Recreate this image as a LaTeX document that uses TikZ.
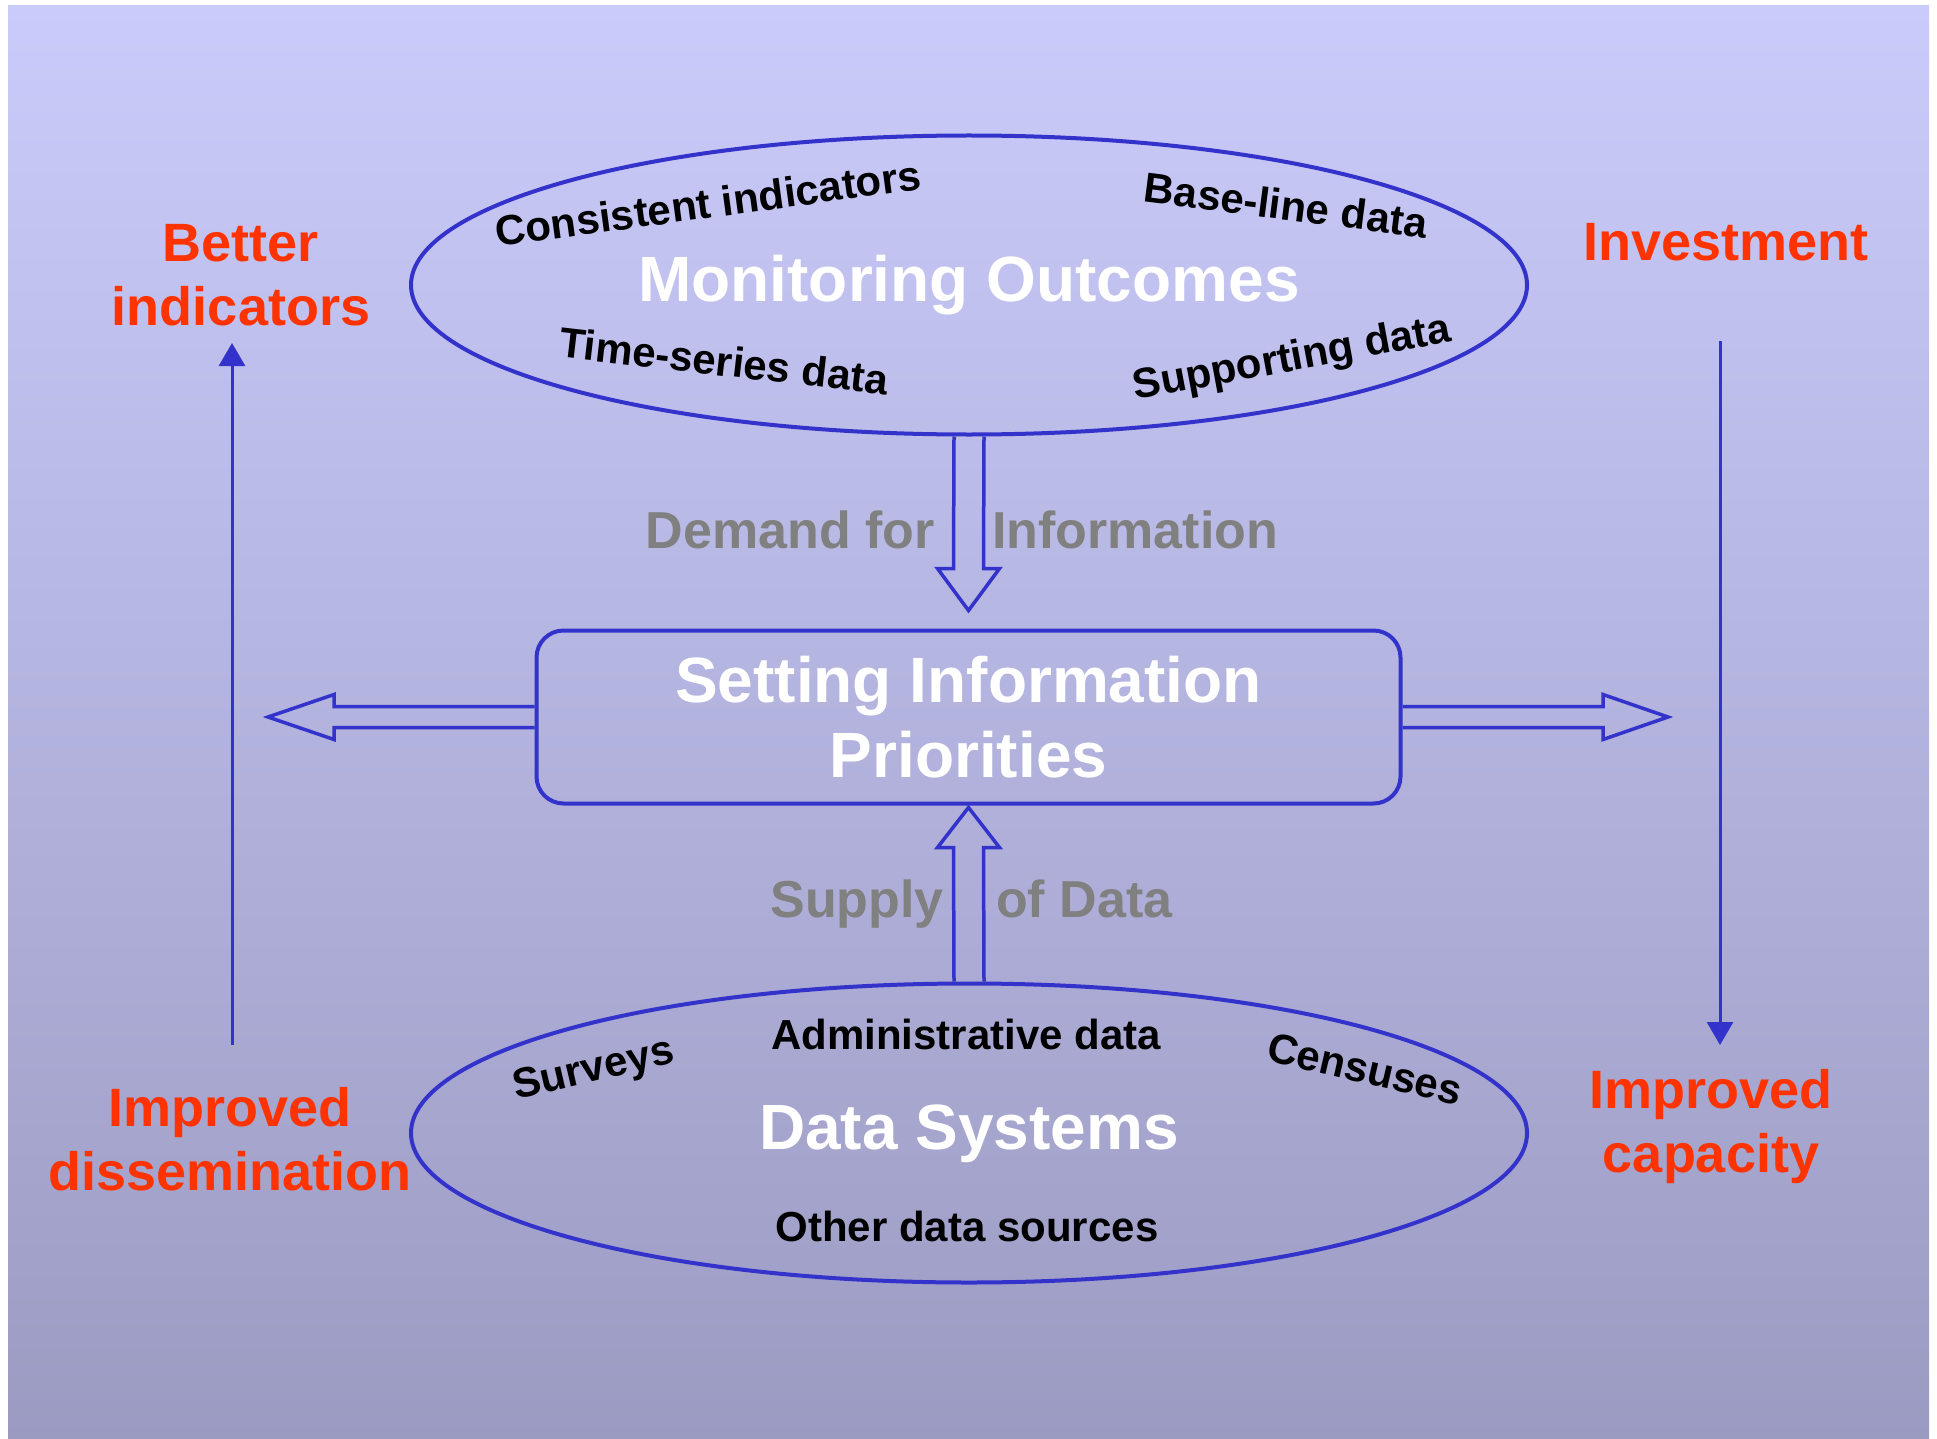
\documentclass[tikz,border=0pt]{standalone}
\usepackage{fontspec}
\setmainfont{Liberation Sans}
\usepackage{tikz}
\usetikzlibrary{shapes, arrows.meta, calc}
\definecolor{lineblue}{RGB}{51,51,204}
\definecolor{effectred}{RGB}{255,51,0}
\definecolor{flowgray}{RGB}{128,128,128}
\definecolor{skytop}{RGB}{203,203,251}
\definecolor{skybottom}{RGB}{155,155,194}
\tikzstyle{oval}   = [ellipse, draw=lineblue, line width=4pt, minimum width=1116pt, minimum height=299pt, inner sep=0pt]
\tikzstyle{prio}   = [rectangle, rounded corners=27pt, draw=lineblue, line width=4pt, minimum width=864pt, minimum height=173pt, text=white, align=center, font=\fontsize{64}{75}\selectfont\bfseries]
\tikzstyle{title}  = [text=white, font=\fontsize{64}{75}\selectfont\bfseries, anchor=base]
\tikzstyle{item}   = [font=\fontsize{42}{48}\selectfont\bfseries, inner sep=0pt]
\tikzstyle{flow}   = [text=flowgray, font=\fontsize{52}{60}\selectfont\bfseries, inner sep=0pt]
\tikzstyle{effect} = [text=effectred, font=\fontsize{54}{64}\selectfont\bfseries, align=center, inner sep=0pt]
\tikzstyle{hollow} = [draw=lineblue, line width=3.5pt, line join=miter]
\tikzstyle{single} = [draw=lineblue, line width=3pt, -{Triangle[length=23pt, width=26pt]}]

\begin{document}
\begin{tikzpicture}[x=1pt, y=-1pt]
    \useasboundingbox (0,0) rectangle (1937,1439);
    \shade[top color=skytop, bottom color=skybottom] (8,6) rectangle (1929,1438);

    % the two ovals and the box between them
    \node[oval](outcomes) at (969,285) {};
    \node[prio](prio) at (968.5,717) {Setting Information\\Priorities};
    \node[oval](systems) at (969,1133) {};
    \node[title](outtitle) at ($(outcomes)+(0,16)$) {Monitoring Outcomes};
    \node[title](systitle) at ($(systems)+(0,16)$) {Data Systems};

    % what goes into the ovals
    \node[item, rotate=7.7](consistent) at (708,203) {Consistent indicators};
    \node[item, rotate=-7.3](baseline) at (1286,205) {Base-line data};
    \node[item, rotate=-6.6](timeseries) at (724,361) {Time-series data};
    \node[item, rotate=10.5](supporting) at (1292,360) {Supporting data};
    \node[item, rotate=13](surveys) at (594,1071) {Surveys};
    \node[item, anchor=base](admin) at (966,1049) {Administrative data};
    \node[item, rotate=-13](censuses) at (1365,1069) {Censuses};
    \node[item, anchor=base](other) at (967,1241) {Other data sources};

    \node[flow, anchor=base east](demand) at (935,548) {Demand for};
    \node[flow, anchor=base west](information) at (992,548) {Information};
    \node[flow, anchor=base east](supply) at (944,917) {Supply};
    \node[flow, anchor=base west](ofdata) at (996,917) {of Data};

    \node[effect](better) at (241,275) {Better\\indicators};
    \node[effect, anchor=base](investment) at (1726,261) {Investment};
    \node[effect](dissem) at (230,1139) {Improved\\dissemination};
    \node[effect](capacity) at (1711,1127) {Improved\\capacity};

    % hollow arrows
    \draw[hollow]($(outcomes.south)+(-15,0)$) -- ($(prio.north)+(-15,-60)$) -- ($(prio.north)+(-31,-60)$)
        -- ($(prio.north)+(0,-18)$) -- ($(prio.north)+(31,-60)$) -- ($(prio.north)+(15,-60)$) -- ($(outcomes.south)+(15,0)$);
    \draw[hollow]($(systems.north)+(-15,0)$) -- ($(prio.south)+(-15,42)$) -- ($(prio.south)+(-31,42)$)
        -- ($(prio.south)+(0,2)$) -- ($(prio.south)+(31,42)$) -- ($(prio.south)+(15,42)$) -- ($(systems.north)+(15,0)$);
    \coordinate (westtip) at (268,717);
    \coordinate (easttip) at (1668,717);
    \draw[hollow]($(prio.west)+(0,-10.5)$) -- ($(westtip)+(66,-10.5)$) -- ($(westtip)+(66,-22.5)$)
        -- (westtip) -- ($(westtip)+(66,22.5)$) -- ($(westtip)+(66,10.5)$) -- ($(prio.west)+(0,10.5)$);
    \draw[hollow]($(prio.east)+(0,-10.5)$) -- ($(easttip)+(-65,-10.5)$) -- ($(easttip)+(-65,-22.5)$)
        -- (easttip) -- ($(easttip)+(-65,22.5)$) -- ($(easttip)+(-65,10.5)$) -- ($(prio.east)+(0,10.5)$);

    % the loop round the sides
    \coordinate (leftfoot) at (232,1045);
    \coordinate (lefthead) at (232,343);
    \coordinate (righttop) at (1720,341);
    \coordinate (rightend) at (1720,1045);
    \path[single](leftfoot) -- (lefthead);
    \path[single](righttop) -- (rightend);
\end{tikzpicture}
\end{document}
